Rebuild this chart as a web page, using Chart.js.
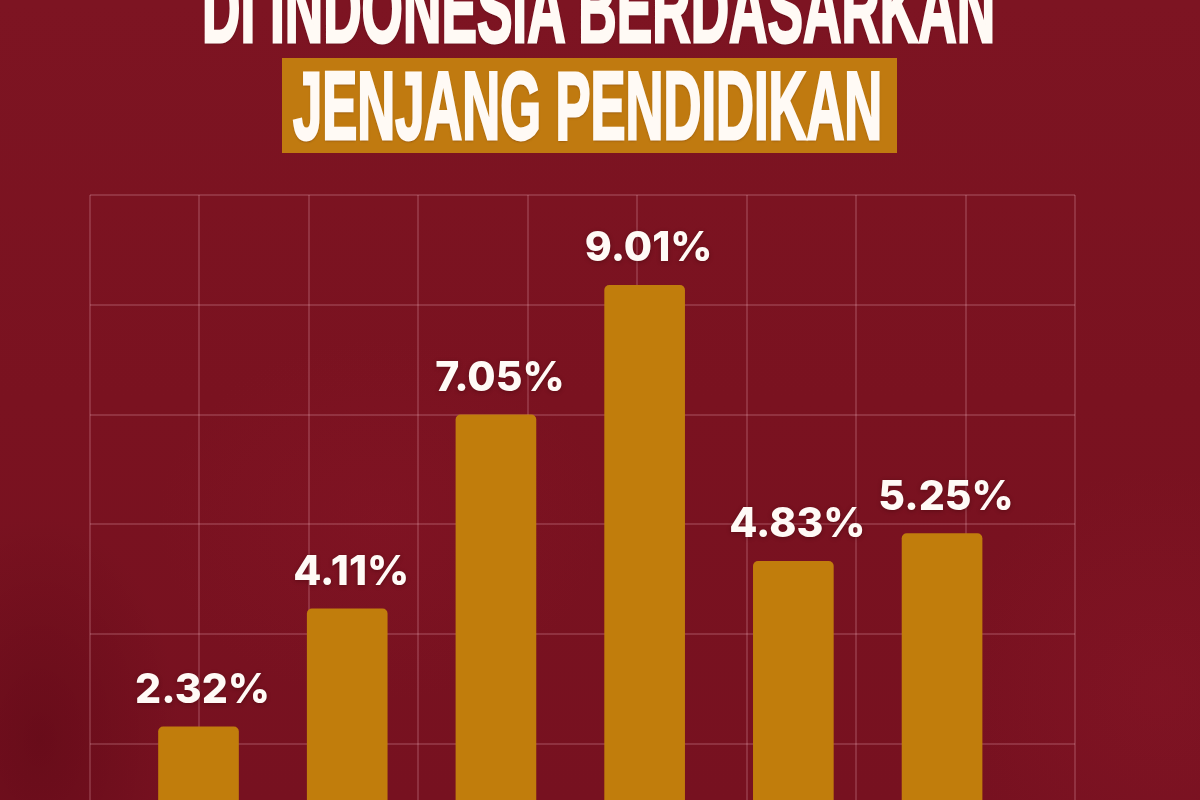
<!DOCTYPE html>
<html>
<head>
<meta charset="utf-8">
<script src="https://cdn.jsdelivr.net/npm/chart.js@4.4.1/dist/chart.umd.min.js"></script>
<style>
html,body{margin:0;padding:0;width:1200px;height:800px;overflow:hidden;background:#7a1220;}
#stage{position:relative;width:1200px;height:800px;overflow:hidden;
  background:
    radial-gradient(ellipse 200px 320px at 40px 740px, rgba(70,0,12,0.3), rgba(70,0,12,0) 70%),
    radial-gradient(ellipse 320px 260px at 380px 520px, rgba(150,25,45,0.2), rgba(150,25,45,0) 70%),
    radial-gradient(ellipse 300px 320px at 1160px 690px, rgba(150,25,45,0.25), rgba(150,25,45,0) 70%),
    linear-gradient(180deg,#7d1422 0%,#7a1220 50%,#771120 100%);}
#chartWrap{position:absolute;left:0;top:0;width:1200px;height:900px;}
.title{position:absolute;white-space:nowrap;color:#fffaf5;font-weight:700;
  font-family:'Liberation Sans','Roboto',sans-serif;
  -webkit-text-stroke:3px #fffaf5;
  transform-origin:0 0;text-shadow:0 2px 3px rgba(50,0,0,0.35);}
#box{position:absolute;left:282px;top:58px;width:615px;height:95px;background:#c07a10;}
</style>
</head>
<body>
<div id="stage">
  <div id="box"></div>
  <div id="chartWrap"><canvas id="c" width="1200" height="900"></canvas></div>
  <div id="t1" class="title"></div>
  <div id="t2" class="title"></div>
</div>
<script>
// ---- data ----
const categories = ['SD ke bawah', 'SMP', 'SMA', 'SMK', 'Diploma I/II/III', 'Universitas'];
const values = [2.32, 4.11, 7.05, 9.01, 4.83, 5.25];
const valueLabels = values.map(v => v.toFixed(2) + '%');
const titleLines = ['DI INDONESIA BERDASARKAN', 'JENJANG PENDIDIKAN'];

// ---- title ----
function placeTitle(el, text, left, right, baseline, capH) {
  el.textContent = text;
  const fam = getComputedStyle(el).fontFamily;
  const c = document.createElement('canvas').getContext('2d');
  c.font = '700 100px ' + fam;
  const capAsc = c.measureText('H').actualBoundingBoxAscent;
  const fs = 100 * (capH - 3) / capAsc;
  c.font = '700 ' + fs + 'px ' + fam;
  const m = c.measureText(text);
  const inkW = m.actualBoundingBoxLeft + m.actualBoundingBoxRight + 3;
  const sx = (right - left) / inkW;
  const fa = m.fontBoundingBoxAscent, fd = m.fontBoundingBoxDescent;
  el.style.fontSize = fs + 'px';
  el.style.lineHeight = (fa + fd) + 'px';
  el.style.top = (baseline - 1.5 - fa) + 'px';
  el.style.left = (left + (m.actualBoundingBoxLeft + 1.5) * sx) + 'px';
  el.style.transform = 'scaleX(' + sx + ')';
}
placeTitle(document.getElementById('t1'), titleLines[0], 205, 995, 43, 70);
placeTitle(document.getElementById('t2'), titleLines[1], 293, 880, 140, 70);

// ---- chart ----
const gridStyle = { color: 'rgba(255,200,210,0.18)', lineWidth: 2, drawTicks: false, offset: false };

const valueLabelPlugin = {
  id: 'valueLabels',
  afterDatasetsDraw(chart) {
    const ctx = chart.ctx;
    const meta = chart.getDatasetMeta(0);
    ctx.save();
    ctx.font = '800 41px Inter, "Open Sans", sans-serif';
    ctx.fillStyle = '#fffaf6';
    ctx.textAlign = 'center';
    ctx.textBaseline = 'alphabetic';
    ctx.shadowColor = 'rgba(40,0,0,0.35)';
    ctx.shadowBlur = 4;
    ctx.shadowOffsetY = 1;
    meta.data.forEach((bar, i) => {
      ctx.fillText(valueLabels[i], bar.x + 4, bar.y - 24);
    });
    ctx.restore();
  }
};

new Chart(document.getElementById('c'), {
  type: 'bar',
  data: {
    labels: categories,
    datasets: [{
      data: categories.map((c, i) => ({ x: i, y: values[i] })),
      backgroundColor: '#c17d0c',
      borderRadius: { topLeft: 5, topRight: 5, bottomLeft: 0, bottomRight: 0 },
      borderSkipped: 'bottom',
      barThickness: 80
    }]
  },
  options: {
    responsive: false,
    animation: false,
    events: [],
    layout: { padding: { left: 90, right: 125, top: 195, bottom: 20 } },
    plugins: { legend: { display: false }, tooltip: { enabled: false } },
    scales: {
      x: { type: 'linear', min: -0.7297, max: 5.894, offset: false, display: false, grid: { offset: false } },
      xg: { type: 'linear', position: 'bottom', min: 0, max: 9, offset: false,
            ticks: { display: false, stepSize: 1 }, grid: gridStyle, border: { display: false } },
      y: { type: 'linear', min: 0, max: 10.38, display: false },
      yg: { type: 'linear', position: 'left', reverse: true, min: 0, max: 6.238,
            ticks: { display: false, stepSize: 1 }, grid: gridStyle, border: { display: false } }
    }
  },
  plugins: [valueLabelPlugin]
});
</script>
</body>
</html>
